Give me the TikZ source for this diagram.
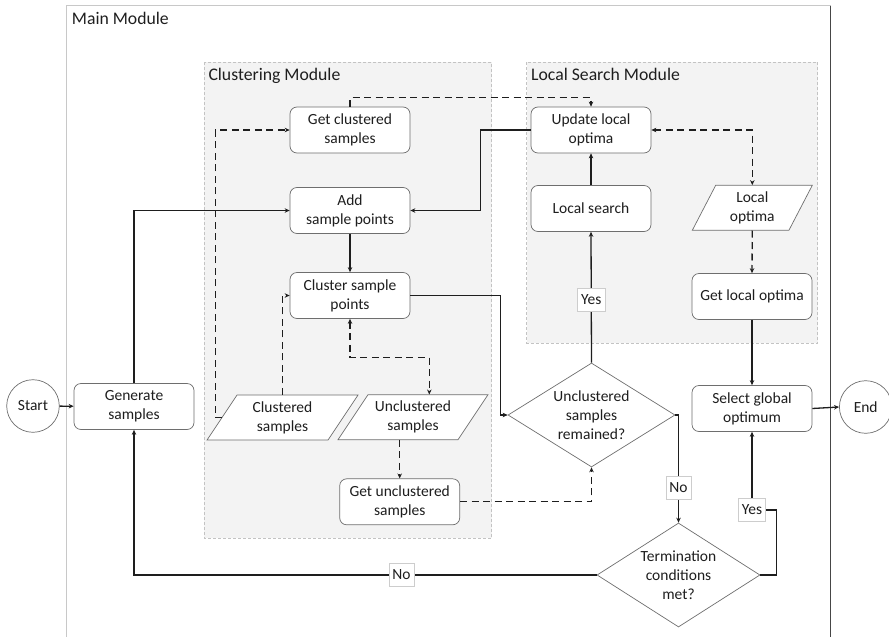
\documentclass[tikz,border=0pt]{standalone}
\usepackage{fontspec}
\setmainfont{Carlito}
\usetikzlibrary{shapes.geometric,arrows.meta,calc}

\definecolor{ink}{RGB}{30,30,30}
\definecolor{edge}{RGB}{110,110,110}
\definecolor{modfill}{RGB}{243,243,243}
\definecolor{modedge}{RGB}{195,195,195}
\definecolor{framel}{RGB}{200,200,200}
\definecolor{framer}{RGB}{70,70,70}
\definecolor{tagedge}{RGB}{205,205,205}

% parallelogram outline: centre, half body width, half slant
\newcommand\ioframe[3]{%
  \filldraw[draw=edge,fill=white,line width=0.7pt]
    ($(#1)+(-#2-#3,22.5)$) -- ($(#1)+(-#2+#3,-22.5)$) --
    ($(#1)+(#2+#3,-22.5)$) -- ($(#1)+(#2-#3,22.5)$) -- cycle;}

\tikzset{
  base/.style={font=\fontsize{15.5}{19}\selectfont, text=ink, align=center},
  proc/.style={base, draw=edge, fill=white, line width=0.7pt, rounded corners=7pt,
    minimum width=120, minimum height=46, inner sep=2pt},
  iotext/.style={base, minimum width=#1, minimum height=45, inner sep=0pt},
  term/.style={base, circle, draw=edge, fill=white, line width=0.7pt,
    minimum size=52.6, inner sep=0pt},
  choice/.style={base, diamond, draw=edge, fill=white, line width=0.7pt,
    inner sep=-3pt, aspect=1.6},
  flow/.style={draw=ink, line width=1.3pt, ->},
  dflow/.style={flow, dash pattern=on 7pt off 4.5pt},
  tag/.style={base, fill=white, draw=tagedge, line width=0.6pt,
    inner xsep=3.5pt, inner ysep=0pt, minimum height=23},
  modbox/.style={fill=modfill, draw=modedge, line width=0.7pt, dash pattern=on 3pt off 2pt},
  modtitle/.style={font=\fontsize{17.7}{21}\selectfont, text=ink, anchor=base west, inner sep=0pt},
}

\begin{document}
\begin{tikzpicture}[x=1pt, y=-1pt, >={Stealth[length=5pt,width=4.5pt]}]
\useasboundingbox (0,0) rectangle (889,637);

% main module frame
\draw[framel, line width=0.8pt] (66.5,650) -- (66.5,5.5) -- (830.5,5.5);
\draw[framer, line width=0.8pt] (830.5,5.5) -- (830.5,650);
\node[modtitle] (maintitle) at (71.7,24) {Main Module};

% sub-module panels
\draw[modbox] (204,62) rectangle (491.7,538);
\node[modtitle] (cmtitle) at (208.3,80.7) {Clustering Module};
\draw[modbox] (526.7,62) rectangle (817.7,343);
\node[modtitle] (lsmtitle) at (531,80.7) {Local Search Module};

% process steps
\node[term] (startn) at (33,406) {Start};
\node[proc] (gen) at (134,406.5) {Generate\\samples};
\node[proc] (gcs) at (350,130) {Get clustered\\samples};
\node[proc] (add) at (350,210.5) {Add\\sample points};
\node[proc] (clu) at (350,295.5) {Cluster sample\\points};
\node[proc] (gus) at (399.7,501.8) {Get unclustered\\samples};
\node[proc] (upd) at (591,130) {Update local\\optima};
\node[proc] (ls) at (591,208.5) {Local search};
\node[proc] (glo) at (752,296.5) {Get local optima};
\node[proc] (sel) at (752,408.5) {Select global\\optimum};
\node[term] (endn) at (865.7,407) {End};

% data (parallelograms)
\coordinate (csc) at (282.5,417.5);
\ioframe{csc}{60.5}{15}
\node[iotext=121] (cs) at (csc) {Clustered\\samples};
\coordinate (ucsc) at (413,417.2);
\ioframe{ucsc}{60}{15}
\node[iotext=120] (ucs) at (ucsc) {Unclustered\\samples};
\coordinate (loc) at (752.3,207.8);
\ioframe{loc}{48.3}{11.7}
\node[iotext=96.6] (lo) at (loc) {Local\\optima};

% decisions
\node[choice, minimum width=167, minimum height=104] (d1) at (591.5,415)
  {Unclustered\\samples\\remained?};
\node[choice, minimum width=163, minimum height=104] (term) at (678.5,575)
  {Termination\\conditions\\met?};

% main flow
\draw[flow] (startn) -- (gen);
\draw[flow] (gen.north) |- (add.west);
\draw[flow] (add) -- (clu);
\draw[flow] (upd.west) -- ++(-50.3,0) |- (add.east);
\draw[flow] (clu.east) -- ++(90,0) |- (d1.west);
\draw[flow] (d1.north) -- node[tag, pos=0.48] {Yes} (ls.south);
\draw[flow] (ls) -- (upd);
\draw[flow] (glo.south) -- (sel.north);
\draw[flow] (sel.east) -- (endn.west);
\draw[flow] (d1.east) -| node[tag, pos=0.838] {No} (term.north);
\draw[flow] (term.east) -- ++(16,0) -- ++(0,-65) -| node[tag, pos=0.5] {Yes} (sel.south);
\draw[flow] (term.west) -| node[tag, pos=0.211] {No} (gen.south);

% data flow
\draw[dflow] (gcs.north) -- ++(0,-9) -| (upd.north);
\draw[dflow] (cs.west) -- ++(-6.5,0) |- (gcs.west);
\draw[dflow] (cs.north) |- (clu.west);
\draw[dflow, <->] (clu.south) -- ++(0,38.7) -| ([xshift=16.3pt]ucs.north);
\draw[dflow] (ucs.south -| gus.north) -- (gus.north);
\draw[dflow] (gus.east) -| (d1.south);
\draw[dflow, <->] (upd.east) -| (lo.north);
\draw[dflow] (lo.south) -- (glo.north);
\end{tikzpicture}
\end{document}
